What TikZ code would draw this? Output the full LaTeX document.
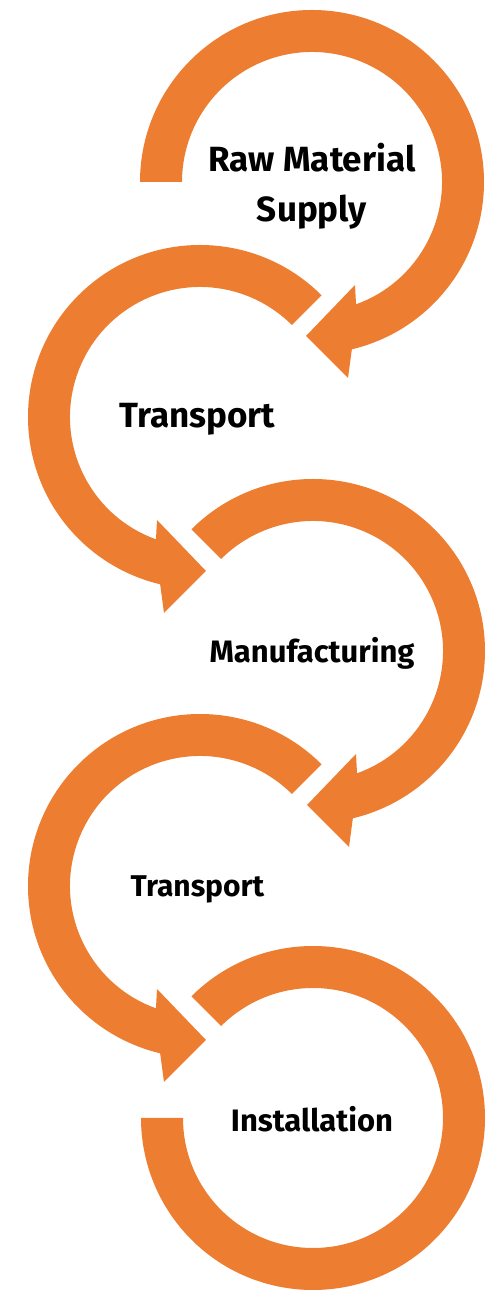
\documentclass[tikz,border=0pt]{standalone}
\usepackage{fontspec}
\setmainfont{Fira Sans}
\definecolor{ringorange}{RGB}{237,125,49}
\begin{document}
\begin{tikzpicture}[x=1pt,y=1pt,
  ringfill/.style={fill=ringorange},
  steptext/.style={anchor=base,inner sep=0pt,text=black,align=center}]
\useasboundingbox (0,0) rectangle (492,1291);

% ring centres
\coordinate (c1) at (312,1109);
\coordinate (c2) at (200,874);
\coordinate (c3) at (313,640);
\coordinate (c4) at (200,405);
\coordinate (c5) at (313,173);

% clockwise rings with the arrow head at the bottom; mirrored ones run anticlockwise
\begin{scope}[shift={(c1)}]
  \fill[ringfill] (180:172) arc[start angle=180, end angle=-76.6, radius=172]
    -- (36,-196) -- (-6,-154) -- (43,-103) -- (-70.2:130)
    arc[start angle=-70.2, end angle=180, radius=130] -- cycle;
\end{scope}
\begin{scope}[shift={(c2)}, xscale=-1]
  \fill[ringfill] (135:172) arc[start angle=135, end angle=-76.6, radius=172]
    -- (36,-196) -- (-6,-154) -- (43,-103) -- (-70.2:130)
    arc[start angle=-70.2, end angle=135, radius=130] -- cycle;
\end{scope}
\begin{scope}[shift={(c3)}]
  \fill[ringfill] (135:172) arc[start angle=135, end angle=-76.6, radius=172]
    -- (36,-196) -- (-6,-154) -- (43,-103) -- (-70.2:130)
    arc[start angle=-70.2, end angle=135, radius=130] -- cycle;
\end{scope}
\begin{scope}[shift={(c4)}, xscale=-1]
  \fill[ringfill] (135:172) arc[start angle=135, end angle=-76.6, radius=172]
    -- (36,-196) -- (-6,-154) -- (43,-103) -- (-70.2:130)
    arc[start angle=-70.2, end angle=135, radius=130] -- cycle;
\end{scope}
\begin{scope}[shift={(c5)}]
  \fill[ringfill] (135:172) arc[start angle=135, end angle=-180, radius=172]
    -- (-180:130) arc[start angle=-180, end angle=135, radius=130] -- cycle;
\end{scope}

% step labels (base anchor sits on the last line)
\node[steptext, font=\fontsize{35}{50}\selectfont\bfseries] (raw) at (312,1069) {Raw Material\\Supply};
\node[steptext, font=\fontsize{35}{42}\selectfont\bfseries] (tr1) at (197.5,863) {Transport};
\node[steptext, font=\fontsize{31}{37}\selectfont\bfseries] (man) at (312,628) {Manufacturing};
\node[steptext, font=\fontsize{30}{36}\selectfont\bfseries] (tr2) at (197.5,394) {Transport};
\node[steptext, font=\fontsize{31}{37}\selectfont\bfseries] (ins) at (312,159) {Installation};
\end{tikzpicture}
\end{document}
